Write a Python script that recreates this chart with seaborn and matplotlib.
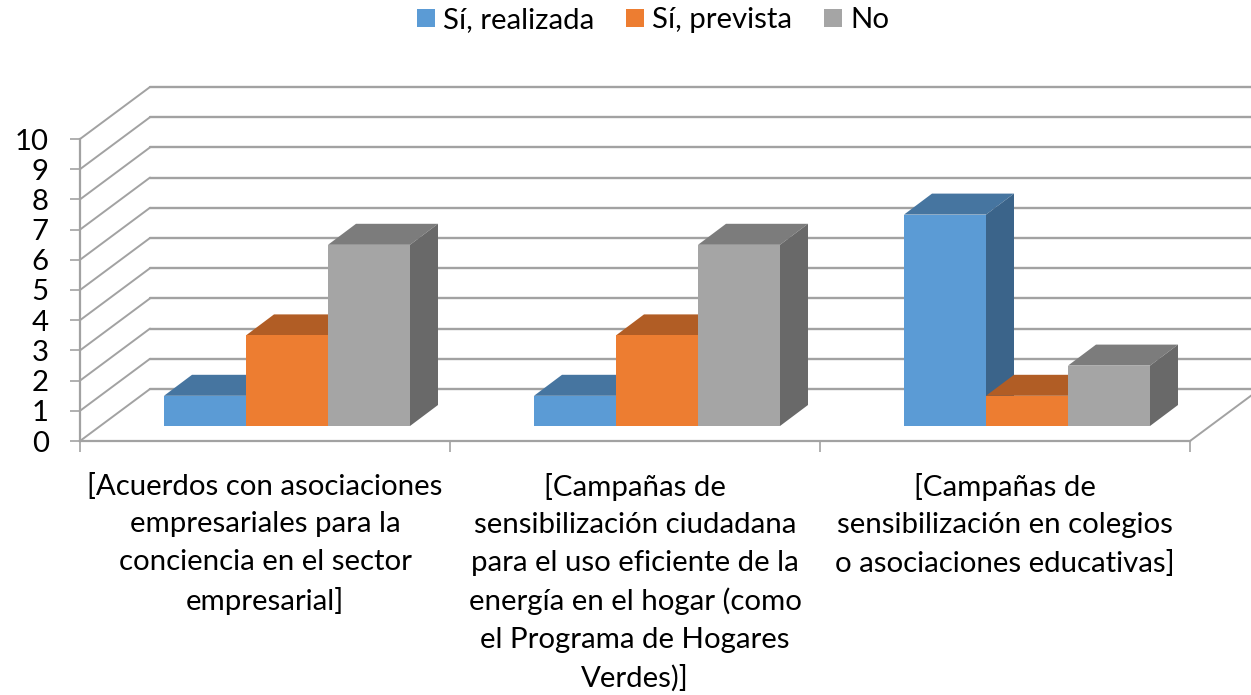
import pandas as pd
import seaborn as sns
import matplotlib.pyplot as plt
from matplotlib.patches import Polygon
from matplotlib.transforms import ScaledTranslation, IdentityTransform

# Datos del grafico
categorias = [
    "[Acuerdos con asociaciones\nempresariales para la\nconciencia en el sector\nempresarial]",
    "[Campañas de\nsensibilización ciudadana\npara el uso eficiente de la\nenergía en el hogar (como\nel Programa de Hogares\nVerdes)]",
    "[Campañas de\nsensibilización en colegios\no asociaciones educativas]",
]
series = ["Sí, realizada", "Sí, prevista", "No"]
realizada = [1, 1, 7]
prevista = [3, 3, 1]
no = [6, 6, 2]
ticks_y = list(range(0, 11))

colores = ["#5B9BD5", "#ED7D31", "#A5A5A5"]
colores_sup = ["#4675A0", "#B15D25", "#7C7C7C"]
colores_lat = ["#3B648A", "#92501F", "#696969"]
gris = "#A2A2A2"

dados = pd.DataFrame({
    "categoria": [c for c in categorias for _ in series],
    "serie": series * len(categorias),
    "valor": [v for fila in zip(realizada, prevista, no) for v in fila],
})

sns.set_style("white")
plt.rcParams["font.family"] = ["Lato", "DejaVu Sans"]

W, H = 1251, 695
fig = plt.figure(figsize=(W / 100, H / 100), dpi=100)
ax = fig.add_axes([80 / W, (H - 441) / H, 1110 / W, 302 / H])

sns.barplot(data=dados, x="categoria", y="valor", hue="serie", order=categorias, hue_order=series,
            palette=colores, saturation=1, width=246 / 370, gap=0, linewidth=0, ax=ax)
ax.set_xlim(-0.5, 2.5)
ax.set_ylim(0, 10)
ax.set_xlabel("")
ax.set_ylabel("")

# Ejes
sns.despine(ax=ax, top=True, right=True)
for lado in ["left", "bottom"]:
    ax.spines[lado].set_color(gris)
    ax.spines[lado].set_linewidth(1.6)
ax.set_yticks(ticks_y)
ax.set_xticks([0, 1, 2])
ax.set_xticklabels(categorias, fontsize=21.2, linespacing=1.54, color="black")
ax.set_xticks([-0.5, 0.5, 1.5, 2.5], minor=True)
ax.tick_params(axis="x", which="major", length=0, pad=23)
ax.tick_params(axis="x", which="minor", length=8, width=1.2, color=gris, bottom=True)
ax.tick_params(axis="y", length=7.5, width=1.2, color=gris, left=True, labelsize=21.2, pad=15, labelcolor="black")

# Paredes del fondo
fondo = ax.transData + ScaledTranslation(70 / 100, 52 / 100, fig.dpi_scale_trans)
for v in ticks_y:
    x0, y0 = ax.transData.transform((-0.5, v))
    x1, y1 = fondo.transform((-0.5, v))
    ax.plot([x0, x1], [y0, y1], color=gris, lw=1.4, transform=IdentityTransform(), clip_on=False, zorder=1)
    ax.plot([-0.5, 2.5], [v, v], color=gris, lw=1.7, transform=fondo, clip_on=False, zorder=1)
x0, y0 = ax.transData.transform((2.5, 0))
x1, y1 = fondo.transform((2.5, 0))
ax.plot([x0, x1], [y0, y1], color=gris, lw=1.4, transform=IdentityTransform(), clip_on=False, zorder=1)

# Barras con cara superior y lateral
desp = ScaledTranslation(22 / 100, 15 / 100, fig.dpi_scale_trans)
dx, dy = 28, 21
for h, cont in enumerate(ax.containers):
    for c, barra in enumerate(cont):
        z = 3 + c * 10 + h * 3
        tr = ax.transData + desp
        barra.set_transform(tr)
        barra.set_clip_on(False)
        barra.set_zorder(z + 1)
        (xa, ya), (xb, yb) = tr.transform(barra.get_bbox().get_points())
        sup = [(xa, yb), (xb, yb), (xb + dx, yb + dy), (xa + dx, yb + dy)]
        lat = [(xb, ya), (xb + dx, ya + dy), (xb + dx, yb + dy), (xb, yb)]
        ax.add_patch(Polygon(sup, closed=True, fc=colores_sup[h], lw=0, transform=IdentityTransform(),
                             clip_on=False, zorder=z))
        ax.add_patch(Polygon(lat, closed=True, fc=colores_lat[h], lw=0, transform=IdentityTransform(),
                             clip_on=False, zorder=z))

# Leyenda
sns.move_legend(ax, "upper center", bbox_to_anchor=(653 / W, 1 + 19 / H), bbox_transform=fig.transFigure,
                ncol=3, frameon=False, title=None, fontsize=21.2, handlelength=0.6, handleheight=0.6,
                handletextpad=0.27, columnspacing=1.1, labelcolor="black")

fig.savefig("out.png", dpi=100)
